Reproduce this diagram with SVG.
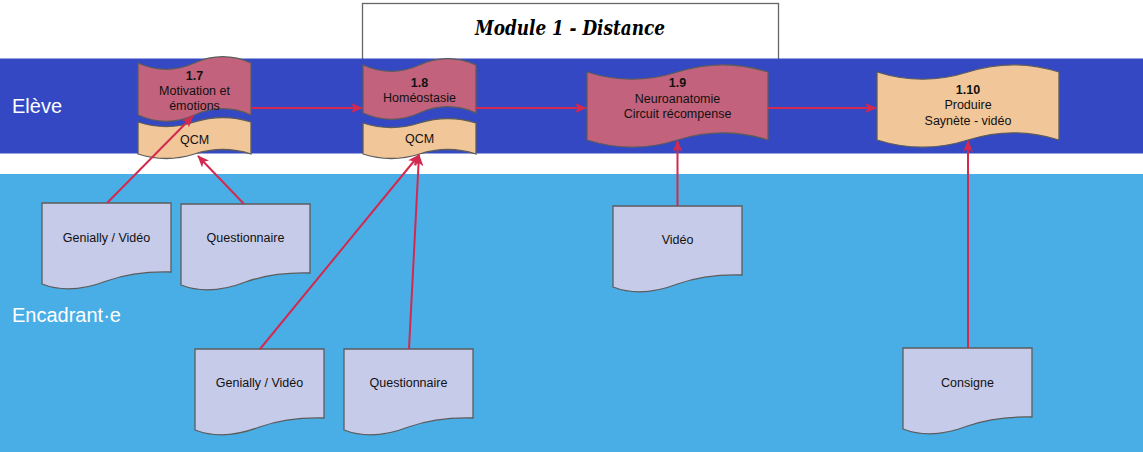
<svg xmlns="http://www.w3.org/2000/svg" width="1143" height="452" viewBox="0 0 1143 452">
<style>
.lbl{font-family:"Liberation Sans",Arial,sans-serif;font-size:12.5px;fill:#111;text-anchor:middle}
.b{font-weight:bold}
.lane{font-family:"Liberation Sans",Arial,sans-serif;font-size:20px;fill:#fff}
.pink{fill:#c3627c;stroke:#5c5c5c;stroke-width:1.3}
.peach{fill:#f1c698;stroke:#5c5c5c;stroke-width:1.3}
.doc{fill:#c6cbea;stroke:#5c5c5c;stroke-width:1.3}
.edge{stroke:#d22a4f;stroke-width:2;fill:none;marker-end:url(#ah)}
</style>
<defs>
<marker id="ah" viewBox="0 0 12 10" refX="11" refY="5" markerWidth="12" markerHeight="10" markerUnits="userSpaceOnUse" orient="auto">
<path d="M0,0 L12,5 L0,10 L3,5 Z" fill="#d22a4f"/>
</marker>
</defs>
<rect x="0" y="0" width="1143" height="452" fill="#fff"/>
<g id="title">
<rect x="362.5" y="3.5" width="416" height="58" fill="#fff" stroke="#666" stroke-width="1.3"/>
<text x="570" y="35" font-family="'DejaVu Serif',serif" font-style="italic" font-weight="bold" font-size="21" text-anchor="middle" fill="#000" textLength="190" lengthAdjust="spacingAndGlyphs">Module 1 - Distance</text>
</g>
<g id="lane-eleve">
<rect x="0" y="58.5" width="1143" height="95" fill="#3448c4"/>
<text class="lane" x="12" y="113">Elève</text>
</g>
<g id="lane-encadrant">
<rect x="0" y="174" width="1143" height="278" fill="#4aaee6"/>
<text class="lane" x="12" y="322">Encadrant·e</text>
</g>
<g id="n17">
<path class="pink" d="M138,63 Q166.25,75.6 194.5,63 Q222.75,50.4 251,63 L251,115 Q222.75,102.4 194.5,115 Q166.25,127.6 138,115 Z"/>
<text class="lbl b" x="194.5" y="80">1.7</text>
<text class="lbl" x="194.5" y="95">Motivation et</text>
<text class="lbl" x="194.5" y="110">émotions</text>
</g>
<g id="q17">
<path class="peach" d="M138,122 Q166.25,131 194.5,122 Q222.75,113 251,122 L251,154 Q222.75,145 194.5,154 Q166.25,163 138,154 Z"/>
<text class="lbl" x="194.5" y="144">QCM</text>
</g>
<g id="n18">
<path class="pink" d="M363,65 Q391.25,77.6 419.5,65 Q447.75,52.4 476,65 L476,113 Q447.75,100.4 419.5,113 Q391.25,125.6 363,113 Z"/>
<text class="lbl b" x="419.5" y="87">1.8</text>
<text class="lbl" x="419.5" y="102">Homéostasie</text>
</g>
<g id="q18">
<path class="peach" d="M363,123 Q391.25,132 419.5,123 Q447.75,114 476,123 L476,154 Q447.75,145 419.5,154 Q391.25,163 363,154 Z"/>
<text class="lbl" x="419.5" y="143">QCM</text>
</g>
<g id="n19">
<path class="pink" d="M587,72 Q632.25,86.4 677.5,72 Q722.75,57.6 768,72 L768,140 Q722.75,125.6 677.5,140 Q632.25,154.4 587,140 Z"/>
<text class="lbl b" x="677.5" y="87">1.9</text>
<text class="lbl" x="677.5" y="103">Neuroanatomie</text>
<text class="lbl" x="677.5" y="118">Circuit récompense</text>
</g>
<g id="n110">
<path class="peach" d="M877,72 Q922.5,86.4 968,72 Q1013.5,57.6 1059,72 L1059,140 Q1013.5,125.6 968,140 Q922.5,154.4 877,140 Z"/>
<text class="lbl b" x="968" y="94">1.10</text>
<text class="lbl" x="968" y="109">Produire</text>
<text class="lbl" x="968" y="125">Saynète - vidéo</text>
</g>
<g id="d1">
<path class="doc" d="M42,203 h129 v69 q-36.12,-1 -64.5,9 q-36.12,14 -64.5,3 Z"/>
<text class="lbl" x="106.5" y="242">Genially / Vidéo</text>
</g>
<g id="d2">
<path class="doc" d="M181,204 h129 v69 q-36.12,-1 -64.5,9 q-36.12,14 -64.5,3 Z"/>
<text class="lbl" x="245.5" y="242">Questionnaire</text>
</g>
<g id="d3">
<path class="doc" d="M195,349 h129 v69 q-36.12,-1 -64.5,9 q-36.12,14 -64.5,3 Z"/>
<text class="lbl" x="259.5" y="387">Genially / Vidéo</text>
</g>
<g id="d4">
<path class="doc" d="M344,349 h129 v69 q-36.12,-1 -64.5,9 q-36.12,14 -64.5,3 Z"/>
<text class="lbl" x="408.5" y="387">Questionnaire</text>
</g>
<g id="d5">
<path class="doc" d="M613,206 h129 v69 q-36.12,-1 -64.5,9 q-36.12,14 -64.5,3 Z"/>
<text class="lbl" x="677.5" y="244">Vidéo</text>
</g>
<g id="d6">
<path class="doc" d="M903,348 h129 v69 q-36.12,-1 -64.5,9 q-36.12,14 -64.5,3 Z"/>
<text class="lbl" x="967.5" y="387">Consigne</text>
</g>
<g id="connectors">
<line class="edge" x1="107" y1="203" x2="193" y2="116"/>
<line class="edge" x1="244" y1="204" x2="198" y2="156"/>
<line class="edge" x1="251" y1="108" x2="362" y2="108"/>
<line class="edge" x1="476" y1="108" x2="586" y2="108"/>
<line class="edge" x1="768" y1="108" x2="876" y2="108"/>
<line class="edge" x1="260" y1="349" x2="419" y2="155"/>
<line class="edge" x1="409" y1="349" x2="419" y2="155"/>
<line class="edge" x1="677.5" y1="206" x2="677.5" y2="141"/>
<line class="edge" x1="968" y1="348" x2="968" y2="141"/>
</g>
</svg>
